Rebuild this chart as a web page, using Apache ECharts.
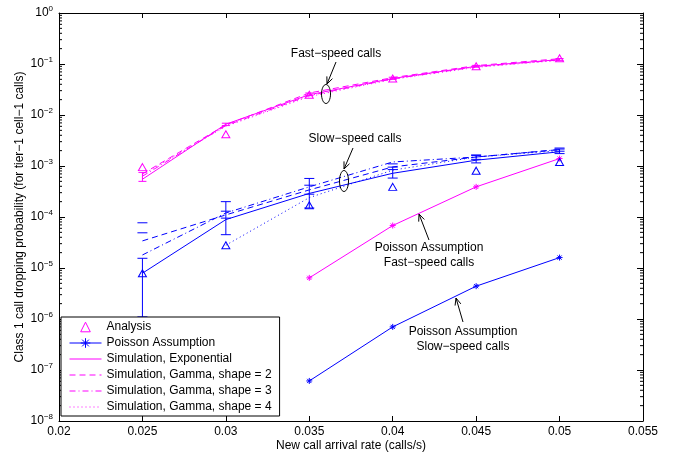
<!DOCTYPE html>
<html>
<head>
<meta charset="utf-8">
<script src="https://cdn.jsdelivr.net/npm/echarts@6/dist/echarts.min.js"></script>
<style>
  html, body { margin: 0; background: #fff; }
  #chart { width: 674px; height: 457px; }
</style>
</head>
<body>
<div id="chart"></div>
<script>
// arrival rates (calls/s) where every curve is sampled
const rates = [0.025, 0.03, 0.035, 0.04, 0.045, 0.05];
const xTicks = [0.02, 0.025, 0.03, 0.035, 0.04, 0.045, 0.05, 0.055];
const yExponents = [-8, -7, -6, -5, -4, -3, -2, -1, 0];

// fast-speed calls (magenta)
const fastAnalysis = [9.5e-4, 4.2e-3, 2.5e-2, 5.2e-2, 9.0e-2, 0.13];
const fastPoisson = [null, null, 6.4e-6, 6.8e-5, 3.9e-4, 1.4e-3];
const fastExp = [5.5e-4, 6.6e-3, 2.5e-2, 5.2e-2, 9.0e-2, 0.122];
const fastGamma2 = [7.0e-4, 6.4e-3, 2.7e-2, 5.4e-2, 9.3e-2, 0.127];
const fastGamma3 = [6.3e-4, 6.2e-3, 2.4e-2, 5.1e-2, 8.8e-2, 0.12];
const fastGamma4 = [6.8e-4, 6.0e-3, 2.3e-2, 5.0e-2, 8.6e-2, 0.118];
const fastExpLow = [5.0e-4, 6.2e-3, 2.4e-2, 5.0e-2, 8.7e-2, 0.118];
const fastExpHigh = [7.5e-4, 6.9e-3, 2.7e-2, 5.5e-2, 9.4e-2, 0.128];

// slow-speed calls (blue)
const slowAnalysis = [7.9e-6, 2.8e-5, 1.7e-4, 3.9e-4, 8.1e-4, 1.2e-3];
const slowPoisson = [null, null, 6.1e-8, 7.0e-7, 4.4e-6, 1.6e-5];
const slowExp = [7.9e-6, 8.9e-5, 2.9e-4, 7.2e-4, 1.3e-3, 1.9e-3];
const slowGamma2 = [3.4e-5, 1.1e-4, 3.4e-4, 9.6e-4, 1.5e-3, 2.1e-3];
const slowGamma3 = [1.8e-5, 1.2e-4, 3.9e-4, 1.2e-3, 1.5e-3, 2.1e-3];
const slowGamma4 = [null, 2.8e-5, 2.4e-4, 8.3e-4, 1.5e-3, 2.0e-3];
const slowExpLow = [1.1e-6, 4.5e-5, 1.5e-4, 5.8e-4, 1.15e-3, 1.75e-3];
const slowExpHigh = [1.55e-5, 2.0e-4, 5.7e-4, 9.5e-4, 1.6e-3, 2.15e-3];
const slowGamma2Low = [4.9e-5, 9.5e-5, 2.8e-4, 8.5e-4, 1.35e-3, 1.95e-3];
const slowGamma2High = [7.7e-5, 1.3e-4, 4.2e-4, 1.1e-3, 1.65e-3, 2.25e-3];

const MAGENTA = '#ff00ff';
const BLUE = '#0000ff';
const FONT = 'Liberation Sans';
const STAR = 'path://M5,0L5,10M0,5L10,5M1.5,1.5L8.5,8.5M1.5,8.5L8.5,1.5';

const chart = echarts.init(document.getElementById('chart'));

function pairs(vals) {
  return rates.map((x, i) => [x, vals[i]]).filter((d) => d[1] != null);
}

function simLine(name, vals, color, dash) {
  return {
    name,
    type: 'line',
    data: pairs(vals),
    symbol: 'none',
    lineStyle: { color, width: 1, type: dash },
    itemStyle: { color },
    z: 4,
  };
}

function poissonLine(vals, color) {
  return {
    name: 'Poisson Assumption',
    type: 'line',
    data: pairs(vals),
    symbol: STAR,
    symbolSize: 6,
    lineStyle: { color, width: 1 },
    itemStyle: { color, borderColor: color, borderWidth: 1 },
    z: 4,
  };
}

// drawn as a line series with an invisible line so the legend shows just the triangle
function analysisMarks(vals, color) {
  return {
    name: 'Analysis',
    type: 'line',
    data: pairs(vals),
    symbol: 'triangle',
    symbolSize: [8, 7],
    lineStyle: { width: 0, opacity: 0 },
    itemStyle: { color: 'rgba(0,0,0,0)', borderColor: color, borderWidth: 1 },
    z: 5,
  };
}

function errorBars(low, high, color, capHalf, withStem) {
  return {
    type: 'custom',
    silent: true,
    clip: false,
    data: rates.map((x, i) => [x, low[i], high[i]]),
    encode: { x: 0, y: [1, 2] },
    renderItem: (params, api) => {
      const top = api.coord([api.value(0), api.value(2)]);
      const bot = api.coord([api.value(0), api.value(1)]);
      const style = { stroke: color, lineWidth: 1 };
      const children = [
        { type: 'line', shape: { x1: top[0] - capHalf, y1: top[1], x2: top[0] + capHalf, y2: top[1] }, style },
        { type: 'line', shape: { x1: bot[0] - capHalf, y1: bot[1], x2: bot[0] + capHalf, y2: bot[1] }, style },
      ];
      if (withStem) {
        children.push({ type: 'line', shape: { x1: top[0], y1: top[1], x2: bot[0], y2: bot[1] }, style });
      }
      return { type: 'group', children };
    },
    z: 3,
  };
}

// minor log ticks (2..9 x 10^k) on both vertical axes
const minorTickValues = [];
yExponents.slice(0, -1).forEach((e) => {
  for (let m = 2; m <= 9; m++) minorTickValues.push(m * Math.pow(10, e));
});

const minorTicks = {
  type: 'custom',
  silent: true,
  clip: false,
  data: minorTickValues.map((v) => [xTicks[0], v]),
  renderItem: (params, api) => {
    const v = api.value(1);
    const l = api.coord([xTicks[0], v]);
    const r = api.coord([xTicks[xTicks.length - 1], v]);
    const style = { stroke: '#000', lineWidth: 1 };
    return {
      type: 'group',
      children: [
        { type: 'line', shape: { x1: l[0], y1: l[1], x2: l[0] + 3, y2: l[1] }, style },
        { type: 'line', shape: { x1: r[0] - 3, y1: r[1], x2: r[0], y2: r[1] }, style },
      ],
    };
  },
  z: 1,
};

function arrow(x1, y1, x2, y2) {
  const a = Math.atan2(y2 - y1, x2 - x1);
  const L = 7, W = 3;
  const bx = x2 - L * Math.cos(a), by = y2 - L * Math.sin(a);
  const px = -Math.sin(a) * W, py = Math.cos(a) * W;
  return [
    { type: 'line', shape: { x1, y1, x2, y2 }, style: { stroke: '#000', lineWidth: 1 } },
    { type: 'polyline', shape: { points: [[bx + px, by + py], [x2, y2], [bx - px, by - py]] }, style: { stroke: '#000', lineWidth: 1, fill: null } },
  ];
}

function note(x, y, text) {
  return {
    type: 'text',
    x,
    y,
    style: { text, font: '12px "Liberation Sans"', fill: '#000', align: 'center', verticalAlign: 'middle', lineHeight: 15 },
    z: 10,
  };
}

function ring(cx, cy, rx, ry) {
  return { type: 'ellipse', shape: { cx, cy, rx, ry }, style: { stroke: '#000', lineWidth: 1, fill: null }, z: 10 };
}

const axisText = { fontFamily: FONT, fontSize: 12, color: '#000' };
const frame = { show: true, lineStyle: { color: '#000', width: 1 } };
const noMarker = { itemStyle: { opacity: 0 } };

chart.setOption({
  animation: false,
  backgroundColor: '#fff',
  grid: { left: 59, right: 31, top: 13, bottom: 36 },
  xAxis: [
    {
      type: 'value',
      min: xTicks[0],
      max: xTicks[xTicks.length - 1],
      interval: 0.005,
      name: 'New call arrival rate (calls/s)',
      nameLocation: 'middle',
      nameGap: 19,
      nameMoveOverlap: false,
      nameTextStyle: axisText,
      axisLine: frame,
      axisTick: { inside: true, length: 5, lineStyle: { color: '#000' } },
      axisLabel: { ...axisText, margin: 5, formatter: (v) => String(+v.toFixed(3)) },
      splitLine: { show: false },
    },
    {
      type: 'value',
      position: 'top',
      min: xTicks[0],
      max: xTicks[xTicks.length - 1],
      interval: 0.005,
      axisLine: frame,
      axisTick: { inside: true, length: 5, lineStyle: { color: '#000' } },
      axisLabel: { show: false },
      splitLine: { show: false },
    },
  ],
  yAxis: [
    {
      type: 'log',
      logBase: 10,
      min: Math.pow(10, yExponents[0]),
      max: Math.pow(10, yExponents[yExponents.length - 1]),
      splitNumber: 8,
      name: 'Class 1 call dropping probability (for tier\u22121 cell\u22121 calls)',
      nameLocation: 'middle',
      nameGap: 33,
      nameMoveOverlap: false,
      nameTextStyle: axisText,
      axisLine: frame,
      axisTick: { inside: true, length: 6, lineStyle: { color: '#000' } },
      axisLabel: {
        ...axisText,
        margin: 6,
        formatter: (v) => {
          const e = Math.round(Math.log10(v));
          return '{b|10}{e|' + String(e).replace('-', '\u2212') + '}';
        },
        rich: {
          b: { fontFamily: FONT, fontSize: 12, color: '#000' },
          e: { fontFamily: FONT, fontSize: 8, color: '#000', padding: [0, 0, 8, 0] },
        },
      },
      splitLine: { show: false },
    },
    {
      type: 'log',
      logBase: 10,
      position: 'right',
      min: Math.pow(10, yExponents[0]),
      max: Math.pow(10, yExponents[yExponents.length - 1]),
      splitNumber: 8,
      axisLine: frame,
      axisTick: { inside: true, length: 6, lineStyle: { color: '#000' } },
      axisLabel: { show: false },
      splitLine: { show: false },
    },
  ],
  legend: {
    orient: 'vertical',
    left: 61,
    top: 317,
    padding: [4, 8, 3, 8],
    itemGap: 4,
    itemWidth: 32,
    itemHeight: 12,
    backgroundColor: '#fff',
    borderColor: '#000',
    borderWidth: 1,
    lineStyle: { width: 1 },
    itemStyle: { borderWidth: 1 },
    textStyle: { fontFamily: FONT, fontSize: 12, color: '#000' },
    data: [
      { name: 'Analysis' },
      { name: 'Poisson Assumption' },
      { name: 'Simulation, Exponential', ...noMarker },
      { name: 'Simulation, Gamma, shape = 2', ...noMarker },
      { name: 'Simulation, Gamma, shape = 3', ...noMarker },
      { name: 'Simulation, Gamma, shape = 4', ...noMarker },
    ],
  },
  graphic: [
    note(336, 54, 'Fast\u2212speed calls'),
    ...arrow(336, 62, 327, 84),
    ring(326, 94, 4.5, 9.5),
    note(355, 139, 'Slow\u2212speed calls'),
    ...arrow(353, 148, 344, 169),
    ring(344, 181, 4.5, 10.5),
    note(429, 255, 'Poisson Assumption\nFast\u2212speed calls'),
    ...arrow(429, 240, 419, 214),
    note(463, 339, 'Poisson Assumption\nSlow\u2212speed calls'),
    ...arrow(463, 322, 456, 298),
  ],
  series: [
    analysisMarks(fastAnalysis, MAGENTA),
    poissonLine(slowPoisson, BLUE),
    simLine('Simulation, Exponential', fastExp, MAGENTA, 'solid'),
    simLine('Simulation, Gamma, shape = 2', fastGamma2, MAGENTA, [6, 4]),
    simLine('Simulation, Gamma, shape = 3', fastGamma3, MAGENTA, [6, 3, 1, 3]),
    simLine('Simulation, Gamma, shape = 4', fastGamma4, MAGENTA, [1, 3]),
    analysisMarks(slowAnalysis, BLUE),
    poissonLine(fastPoisson, MAGENTA),
    simLine('Simulation, Exponential', slowExp, BLUE, 'solid'),
    simLine('Simulation, Gamma, shape = 2', slowGamma2, BLUE, [6, 4]),
    simLine('Simulation, Gamma, shape = 3', slowGamma3, BLUE, [6, 3, 1, 3]),
    simLine('Simulation, Gamma, shape = 4', slowGamma4, BLUE, [1, 3]),
    errorBars(fastExpLow, fastExpHigh, MAGENTA, 4, true),
    errorBars(slowExpLow, slowExpHigh, BLUE, 5, true),
    errorBars(slowGamma2Low, slowGamma2High, BLUE, 5, false),
    minorTicks,
  ],
});
</script>
</body>
</html>
